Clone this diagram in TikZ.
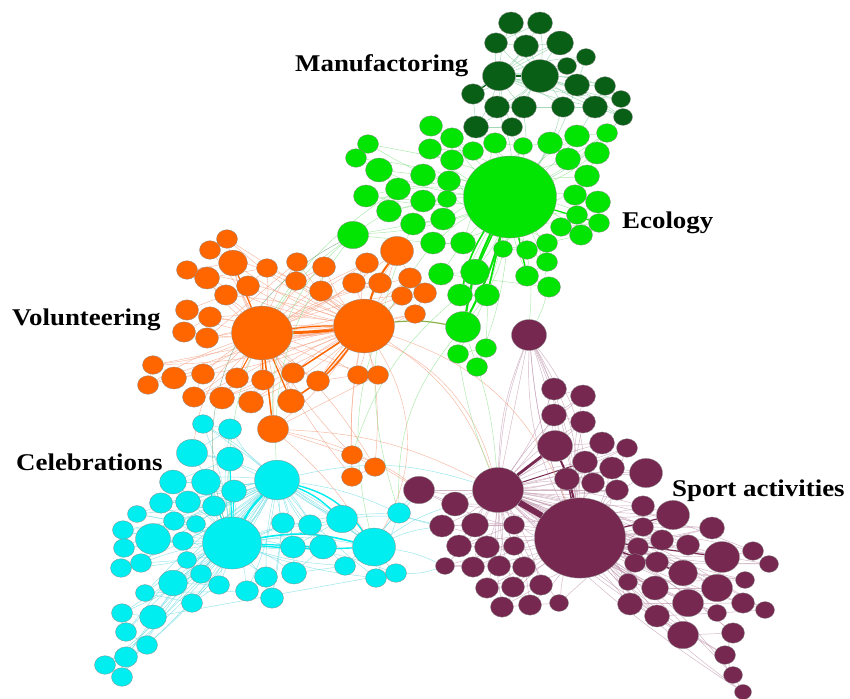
\documentclass[tikz,border=0pt]{standalone}
\usepackage{fontspec}
\setmainfont{Liberation Serif}
\usetikzlibrary{shapes.geometric,backgrounds}
\definecolor{cMg}{RGB}{10,95,22}
\definecolor{cGr}{RGB}{2,228,2}
\definecolor{cOr}{RGB}{255,102,0}
\definecolor{cCy}{RGB}{0,238,240}
\definecolor{cPu}{RGB}{118,40,80}
\definecolor{eMg}{RGB}{130,205,160}
\definecolor{eGr}{RGB}{140,225,140}
\definecolor{eOr}{RGB}{244,160,130}
\definecolor{eCy}{RGB}{110,220,228}
\definecolor{ePu}{RGB}{195,155,178}
\definecolor{eOl}{RGB}{110,160,30}
\tikzset{
  nd/.style={ellipse, draw=black!45, line width=0.3pt, inner sep=0pt},
  lbl/.style={font=\fontsize{24}{24}\selectfont\bfseries, inner sep=0pt, anchor=base west},
  thin edge/.style={line width=0.45pt, opacity=0.75},
}
\newcommand\hubedges[4]{%
  \foreach \x/\y/\r [count=\i] in #3 {%
    \ifnum\i=#1\relax\else
      \ifodd\i \draw[thin edge,#4] (#2#1) to[bend left=8] (#2\i);
      \else \draw[thin edge,#4] (#2\i) to[bend left=6] (#2#1);\fi
    \fi}}
\newcommand\chainedges[3]{%
  \foreach \x/\y/\r [count=\i, remember=\i as \j (initially 1)] in #2 {%
    \ifnum\i>2\relax \draw[thin edge,#3] (#1\j) -- (#1\i);\fi}}
\newcommand\placenodes[3]{%
  \foreach \x/\y/\r [count=\i] in #2 {%
    \node[nd, fill=#3, minimum width={2*\r+1}, minimum height={1.76*\r+1}] (#1\i) at (\x,\y) {};}}
\def\Mlist{511/23/12, 540/23/12, 496/43/11, 526/46/12, 560/43/13, 499/76/16, 540/76/18, 567/66/9, 586/57/9, 577/85/12, 605/86/10, 621/99/9, 623/117/9, 595/107/12, 563/107/11, 524/107/12, 497/107/12, 473/94/11, 476/127/12, 512/127/10}
\def\Glist{510/197/46, 431/126/11, 452/138/11, 473/151/10, 430/149/11, 452/160/11, 368/144/10, 356/158/10, 379/170/13, 423/175/12, 449/181/11, 398/189/12, 366/196/12, 423/201/12, 447/199/9, 389/211/12, 413/224/12, 443/219/12, 353/235/15, 433/243/12, 463/243/12, 495/143/11, 523/146/9, 550/143/12, 577/136/12, 607/133/10, 568/159/12, 597/153/12, 587/176/12, 575/195/11, 598/202/12, 577/215/10, 599/223/10, 561/227/10, 581/235/11, 547/243/10, 503/249/9, 527/250/10, 547/262/10, 527/276/11, 549/287/11, 441/274/12, 475/272/14, 460/295/12, 487/295/12, 463/327/17, 458/354/10, 486/348/10, 477/367/10}
\def\Olist{262/333/30, 364/326/30, 227/239/10, 210/250/10, 233/263/14, 187/270/10, 207/278/12, 267/268/10, 248/286/11, 226/295/11, 187/310/11, 210/317/11, 184/332/11, 207/338/11, 297/262/10, 296/281/10, 324/267/11, 321/291/11, 367/263/11, 354/283/11, 380/283/11, 397/251/16, 410/278/11, 402/296/10, 425/293/11, 415/314/10, 153/365/10, 148/385/10, 174/378/12, 203/374/11, 194/397/11, 237/378/11, 222/398/12, 263/380/11, 251/402/12, 293/373/11, 291/401/13, 318/381/11, 358/375/10, 378/375/10, 273/429/15, 352/455/10, 375/467/10, 352/477/10}
\def\Clist{232/543/29, 277/480/22, 374/547/21, 203/424/10, 230/429/11, 192/453/15, 230/459/13, 173/482/13, 206/482/14, 234/491/12, 161/503/11, 188/502/12, 214/506/11, 137/514/9, 174/521/10, 196/524/9, 123/530/10, 153/539/17, 183/541/10, 124/548/10, 121/568/10, 141/563/10, 187/560/9, 201/574/10, 173/583/14, 219/585/10, 192/603/10, 145/593/9, 247/591/11, 266/577/11, 272/598/11, 283/523/11, 310/525/11, 342/519/15, 293/547/12, 323/547/13, 294/573/12, 345/566/10, 399/513/11, 376/578/10, 396/573/10, 153/617/13, 122/613/10, 126/632/10, 147/645/10, 126/657/11, 105/665/10, 122/677/10}
\def\Plist{580/538/45, 498/490/25, 529/335/17, 554/389/12, 583/396/12, 554/415/12, 583/422/12, 555/446/17, 602/443/12, 627/448/10, 585/462/12, 612/468/12, 646/473/16, 567/479/12, 593/483/11, 617/490/11, 419/490/15, 455/504/13, 643/506/11, 673/515/16, 442/526/12, 475/525/13, 514/525/10, 459/546/12, 487/547/12, 514/546/10, 445/566/9, 473/567/11, 499/566/11, 524/567/11, 487/588/11, 513/587/11, 541/585/11, 502/607/11, 530/605/11, 559/603/9, 643/527/10, 712/528/12, 662/540/11, 638/547/10, 688/545/11, 722/557/17, 753/551/10, 769/564/9, 635/563/10, 657/562/11, 683/573/14, 745/580/9, 628/582/9, 655/588/13, 717/588/15, 688/603/15, 630/604/12, 743/603/11, 765/610/9, 717/613/9, 657/616/12, 683/635/15, 733/633/11, 725/655/10, 733/675/9, 743/692/8}
\begin{document}
\begin{tikzpicture}[x=1pt,y=-1pt]
\useasboundingbox (0,0) rectangle (850,698);
% nodes
\placenodes{M}{\Mlist}{cMg}
\placenodes{G}{\Glist}{cGr}
\placenodes{O}{\Olist}{cOr}
\placenodes{C}{\Clist}{cCy}
\placenodes{P}{\Plist}{cPu}
% labels
\node[lbl] (tM) at (295,72) {\scalebox{1.12}[1]{Manufactoring}};
\node[lbl] (tE) at (622,228) {\scalebox{1.12}[1]{Ecology}};
\node[lbl] (tV) at (12,325) {\scalebox{1.12}[1]{Volunteering}};
\node[lbl] (tC) at (16,470) {\scalebox{1.12}[1]{Celebrations}};
\node[lbl] (tS) at (672,496) {\scalebox{1.12}[1]{Sport activities}};
\begin{pgfonlayer}{background}
\fill[white] (0,0) rectangle (850,698);
% cluster edges
\hubedges{6}{M}{\Mlist}{eMg}
\hubedges{7}{M}{\Mlist}{eMg}
\chainedges{M}{\Mlist}{eMg}
\hubedges{1}{G}{\Glist}{eGr}
\chainedges{G}{\Glist}{eGr}
\hubedges{1}{O}{\Olist}{eOr}
\hubedges{2}{O}{\Olist}{eOr}
\chainedges{O}{\Olist}{eOr}
\hubedges{1}{C}{\Clist}{eCy}
\hubedges{2}{C}{\Clist}{eCy}
\chainedges{C}{\Clist}{eCy}
\hubedges{1}{P}{\Plist}{ePu}
\hubedges{2}{P}{\Plist}{ePu}
\chainedges{P}{\Plist}{ePu}
% manufactoring to ecology
\foreach \k in {14,15,16,17,19,20,10,13} {\draw[thin edge,eMg] (M\k) to[bend left=10] (G1);}
\draw[cMg, line width=1.5pt] (M6) -- (M7);
\draw[cMg, line width=1.2pt] (M6) -- (M18);
% thick green
\draw[cGr, line width=2.2pt] (G1) to[bend right=8] (G46);
\draw[cGr, line width=2pt] (G1) to[bend left=6] (G46);
\draw[cGr, line width=1.6pt] (G1) to[bend right=10] (G44);
\draw[cGr, line width=1.6pt] (G1) -- (G45);
\draw[cGr, line width=1.4pt] (G1) -- (G43);
\draw[cGr, line width=1.4pt] (G1) -- (G40);
\draw[cGr, line width=1.2pt] (G1) -- (G33);
% thick orange
\draw[cOr, line width=3pt] (O1) to[bend right=3] (O2);
\draw[cOr, line width=1.2pt] (O1) to[bend left=4] (O2);
\draw[cOr, line width=2pt] (O2) to[bend left=10] (O22);
\draw[cOr, line width=1.5pt] (O1) -- (O41);
\draw[cOr, line width=1.5pt] (O2) -- (O36);
\draw[cOr, line width=1.5pt] (O2) to[bend left=10] (O37);
\draw[cOr, line width=1.2pt] (O2) -- (O38);
\draw[cOr, line width=1.2pt] (O1) -- (O34);
\draw[cOr, line width=1.2pt] (O1) -- (O5);
\draw[cOr, line width=1.2pt] (O1) -- (O37);
\draw[cOr, line width=1pt] (O1) -- (O32);
% thick cyan
\draw[cCy, line width=2.2pt] (C1) to[bend left=8] (C2);
\draw[cCy, line width=1.6pt] (C1) to[bend left=12] (C3);
\draw[cCy, line width=1.4pt] (C1) to[bend right=4] (C3);
\draw[cCy, line width=1.2pt] (C1) -- (C36);
\draw[cCy, line width=1.4pt] (C2) to[bend left=20] (C3);
\draw[cCy, line width=1.4pt] (C2) to[bend left=10] (C34);
\draw[cCy, line width=1.2pt] (C1) -- (C9);
\draw[cCy, line width=1.2pt] (C1) -- (C7);
\draw[cCy, line width=1pt] (C1) -- (C10);
% thick purple
\draw[cPu, line width=6pt] (P1) -- (P2);
\draw[cPu, line width=2.8pt] (P2) -- (P8);
\draw[cPu, line width=2pt] (P1) to[bend right=6] (P8);
\draw[cPu, line width=1.5pt] (P1) -- (P14);
\draw[cPu, line width=1.4pt] (P1) -- (P47);
\draw[cPu, line width=1.2pt] (P1) -- (P42);
\draw[cPu, line width=1.2pt] (P1) -- (P20);
\draw[cPu, line width=1pt] (P2) -- (P11);
% inter-cluster curves
\foreach \b in {-14,-8,8,14,20} {\draw[thin edge,ePu] (P3) to[bend left=\b] (P1);}
\foreach \b in {6,14} {\draw[thin edge,ePu] (P3) to[bend left=\b] (P8);}
\draw[thin edge,ePu] (P3) to[bend right=10] (P2);
\draw[thin edge,eGr] (G1) to[bend left=10] (P3);
\draw[thin edge,eGr] (G41) to[bend left=6] (P3);
\draw[thin edge,eOr] (O2) to[bend left=18] (P2);
\draw[thin edge,eOr] (O2) to[bend left=25] (P1);
\draw[thin edge,eOr] (O41) to[bend left=12] (P2);
\draw[thin edge,eOr] (O41) to[bend left=10] (P17);
\draw[thin edge,eOr] (O42) to[bend left=10] (P17);
\draw[thin edge,eOr] (O1) to[bend left=40] (P2);
\draw[thin edge,eGr] (G46) to[bend left=8] (P2);
\draw[thin edge,eGr] (G47) to[bend right=6] (P2);
\draw[eOl, line width=1.2pt, opacity=0.8] (G46) to[bend right=8] (O2);
\draw[thin edge,eGr] (G19) to[bend right=10] (O1);
\draw[thin edge,eGr] (G19) to[bend right=20] (C2);
\draw[thin edge,eGr] (G16) to[bend right=30] (O41);
\draw[thin edge,eGr] (G20) to[bend right=25] (C3);
\draw[thin edge,eGr] (G17) to[bend right=20] (C39);
\draw[thin edge,eGr] (G46) to[bend right=20] (C39);
\draw[thin edge,eGr] (G12) to[bend right=30] (C1);
\draw[thin edge,eGr] (G44) to[bend right=15] (O42);
\draw[thin edge,cMg!60] (G19) to[bend right=40] (C1);
\draw[thin edge,eOr] (O2) to[bend left=30] (C3);
\draw[thin edge,eOr] (O41) to[bend left=8] (C3);
\draw[thin edge,eOr] (O1) to[bend right=20] (C6);
\foreach \k in {17,21,27,18} {\draw[thin edge,eCy] (C3) to[bend left=8] (P\k);}
\foreach \k in {17,21} {\draw[thin edge,eCy] (C39) to[bend right=6] (P\k);}
\draw[thin edge,eCy] (C2) to[bend left=15] (P2);
\draw[thin edge,eCy] (C34) to[bend left=10] (P21);
\draw[thin edge,eCy] (C41) to[bend right=10] (P27);
\end{pgfonlayer}
\end{tikzpicture}
\end{document}
